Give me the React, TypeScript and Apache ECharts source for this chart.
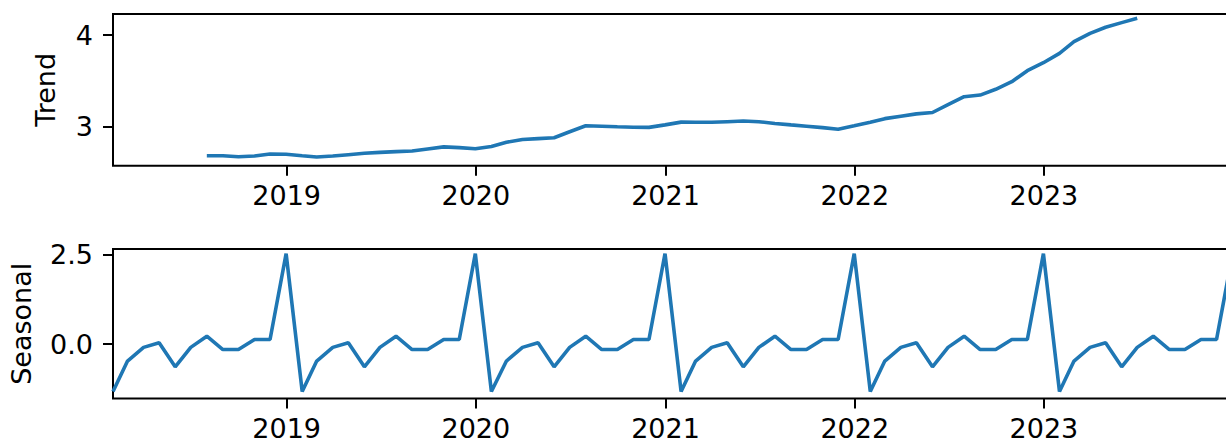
import React, { useEffect, useRef } from "react";
import * as echarts from "echarts";

// Trend component, monthly (month-end), Jul 2018 .. Jun 2023
const trendStart = [2018, 6];
const trendValues = [
  2.684, 2.684, 2.672, 2.68, 2.703, 2.7,
  2.684, 2.67, 2.68, 2.695, 2.71, 2.72, 2.728, 2.735, 2.758, 2.78, 2.772, 2.76,
  2.785, 2.83, 2.86, 2.87, 2.88, 2.945, 3.01, 3.005, 3.0, 2.995, 2.993, 3.02,
  3.05, 3.049, 3.048, 3.055, 3.062, 3.055, 3.036, 3.02, 3.006, 2.99, 2.972, 3.01,
  3.05, 3.088, 3.115, 3.14, 3.155, 3.24, 3.327, 3.345, 3.408, 3.491, 3.611, 3.698,
  3.8, 3.927, 4.018, 4.084, 4.135, 4.182,
];

// Seasonal component, monthly (month-end), Jan 2018 .. Dec 2023
const seasonalStart = [2018, 0];
const seasonalValues = [
  -1.32, -0.47, -0.09, 0.04, -0.63, -0.09, 0.22, -0.15, -0.15, 0.13, 0.13, 2.52,
  -1.32, -0.47, -0.09, 0.04, -0.63, -0.09, 0.22, -0.15, -0.15, 0.13, 0.13, 2.52,
  -1.32, -0.47, -0.09, 0.04, -0.63, -0.09, 0.22, -0.15, -0.15, 0.13, 0.13, 2.52,
  -1.32, -0.47, -0.09, 0.04, -0.63, -0.09, 0.22, -0.15, -0.15, 0.13, 0.13, 2.52,
  -1.32, -0.47, -0.09, 0.04, -0.63, -0.09, 0.22, -0.15, -0.15, 0.13, 0.13, 2.52,
  -1.32, -0.47, -0.09, 0.04, -0.63, -0.09, 0.22, -0.15, -0.15, 0.13, 0.13, 2.52,
];

const yearTicks = [2019, 2020, 2021, 2022, 2023];
const trendTicks = [3, 4];
const seasonalTicks = [0, 2.5];

const monthEnd = (y: number, m: number) => Date.UTC(y, m + 1, 0);
const toPairs = (start: number[], vals: number[]) =>
  vals.map((v, i) => [monthEnd(start[0], start[1] + i), v]);

const xMin = monthEnd(2018, 0);
const xMax = monthEnd(2023, 11);
const xTickValues = yearTicks.map((y) => Date.UTC(y, 0, 1));

const FONT = "DejaVu Sans";
const BLUE = "#1f77b4";
const FS = 27;

export default function App() {
  const ref = useRef<HTMLDivElement>(null);
  useEffect(() => {
    if (!ref.current) return;
    const chart = echarts.init(ref.current, undefined, { renderer: "svg" });
    const xAxisBase = (gridIndex: number) => ({
      type: "value",
      gridIndex,
      min: xMin,
      max: xMax,
      axisLine: { show: false, onZero: false },
      splitLine: { show: false },
      axisTick: {
        show: true,
        length: 10,
        customValues: xTickValues,
        lineStyle: { color: "#000", width: 2 },
      },
      axisLabel: {
        customValues: xTickValues,
        formatter: (v: number) => String(new Date(v).getUTCFullYear()),
        fontFamily: FONT,
        fontSize: FS,
        color: "#000",
        margin: 16,
      },
    });
    const yAxisBase = (
      gridIndex: number,
      min: number,
      max: number,
      ticks: number[],
      fmt: (v: number) => string,
      name: string,
      nameGap: number
    ) => ({
      type: "value",
      gridIndex,
      min,
      max,
      name,
      nameLocation: "middle",
      nameGap,
      nameTextStyle: { fontFamily: FONT, fontSize: FS, color: "#000" },
      axisLine: { show: false, onZero: false },
      splitLine: { show: false },
      axisTick: {
        show: true,
        length: 10,
        customValues: ticks,
        lineStyle: { color: "#000", width: 2 },
      },
      axisLabel: {
        customValues: ticks,
        formatter: fmt,
        fontFamily: FONT,
        fontSize: FS,
        color: "#000",
        margin: 20,
      },
    });
    chart.setOption({
      animation: false,
      backgroundColor: "#fff",
      grid: [
        {
          left: 113,
          right: 7.4,
          top: 14,
          height: 151.7,
          show: true,
          borderColor: "#000",
          borderWidth: 2,
        },
        {
          left: 113,
          right: 7.4,
          top: 249,
          height: 149.5,
          show: true,
          borderColor: "#000",
          borderWidth: 2,
        },
      ],
      xAxis: [xAxisBase(0), xAxisBase(1)],
      yAxis: [
        yAxisBase(0, 2.575, 4.229, trendTicks, (v) => String(v), "Trend", 54),
        yAxisBase(1, -1.513, 2.648, seasonalTicks, (v) => v.toFixed(1), "Seasonal", 78),
      ],
      series: [
        {
          type: "line",
          xAxisIndex: 0,
          yAxisIndex: 0,
          data: toPairs(trendStart, trendValues),
          showSymbol: false,
          lineStyle: { color: BLUE, width: 3.6 },
          itemStyle: { color: BLUE },
        },
        {
          type: "line",
          xAxisIndex: 1,
          yAxisIndex: 1,
          data: toPairs(seasonalStart, seasonalValues),
          showSymbol: false,
          lineStyle: { color: BLUE, width: 3.6 },
          itemStyle: { color: BLUE },
        },
      ],
    });
    return () => chart.dispose();
  }, []);
  return (
    <div
      style={{
        position: "fixed",
        left: 0,
        top: 0,
        width: 1226,
        height: 443,
        overflow: "hidden",
        background: "#fff",
      }}
    >
      <div ref={ref} style={{ width: 1240, height: 443 }} />
    </div>
  );
}
